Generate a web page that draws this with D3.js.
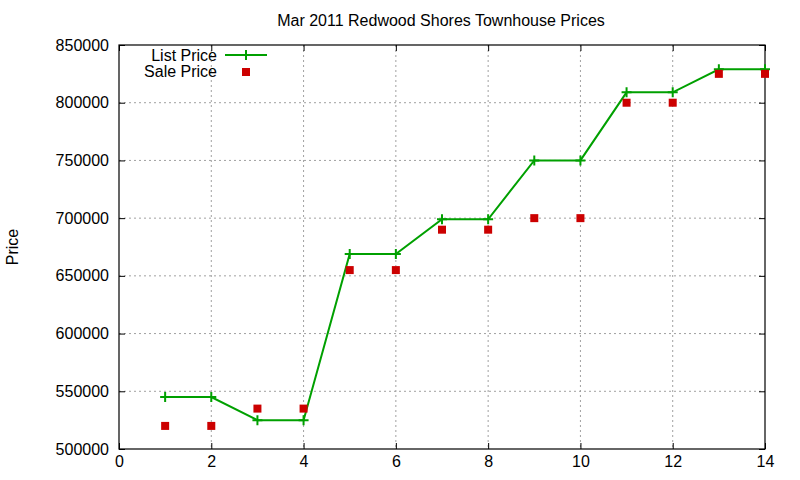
<!DOCTYPE html>
<html>
<head>
<meta charset="utf-8">
<script src="https://cdn.jsdelivr.net/npm/d3@7"></script>
<style>
body { margin: 0; background: #fff; }
svg text { font-family: "Liberation Sans", Arial, sans-serif; fill: #000; }
.grid line { stroke: #a0a0a0; stroke-width: 1; stroke-dasharray: 2,3; }
</style>
</head>
<body>
<script>
var title = "Mar 2011 Redwood Shores Townhouse Prices";
var yLabel = "Price";
var xVals = [1, 2, 3, 4, 5, 6, 7, 8, 9, 10, 11, 12, 13, 14];
var listPrice = [545000, 545000, 525000, 525000, 669000, 669000, 699000, 699000, 750000, 750000, 809000, 809000, 829000, 829000];
var salePrice = [520000, 520000, 535000, 535000, 655000, 655000, 690000, 690000, 700000, 700000, 800000, 800000, 825000, 825000];
var xTicks = [0, 2, 4, 6, 8, 10, 12, 14];
var yTicks = [500000, 550000, 600000, 650000, 700000, 750000, 800000, 850000];

drawChart();

function drawChart() {
    var W = 800, H = 480;
    var pl = 119, pr = 765, pt = 45, pb = 449;
    var green = "#00a000", red = "#cc0000";

    var svg = d3.select("body").append("svg")
        .attr("width", W)
        .attr("height", H);

    var x = d3.scaleLinear().domain([0, 14]).range([pl, pr]);
    var y = d3.scaleLinear().domain([500000, 850000]).range([pb, pt]);

    // grid
    var grid = svg.append("g").attr("class", "grid");
    grid.selectAll("line.gx").data(xTicks.slice(1, -1)).enter().append("line")
        .attr("x1", function (d) { return x(d); }).attr("x2", function (d) { return x(d); })
        .attr("y1", pt).attr("y2", pb);
    grid.selectAll("line.gy").data(yTicks.slice(1, -1)).enter().append("line")
        .attr("y1", function (d) { return y(d); }).attr("y2", function (d) { return y(d); })
        .attr("x1", pl).attr("x2", pr);

    // axes, ticks inward and mirrored
    var tk = 6;
    svg.append("g").attr("transform", "translate(0," + pb + ")")
        .call(d3.axisBottom(x).tickValues(xTicks).tickSize(-tk).tickPadding(7).tickFormat(d3.format("d")));
    svg.append("g").attr("transform", "translate(0," + pt + ")")
        .call(d3.axisTop(x).tickValues(xTicks).tickSize(-tk).tickFormat(""));
    svg.append("g").attr("transform", "translate(" + pl + ",0)")
        .call(d3.axisLeft(y).tickValues(yTicks).tickSize(-tk).tickPadding(10).tickFormat(d3.format("d")));
    svg.append("g").attr("transform", "translate(" + pr + ",0)")
        .call(d3.axisRight(y).tickValues(yTicks).tickSize(-tk).tickFormat(""));

    svg.selectAll(".domain").remove();
    svg.selectAll(".tick line").attr("stroke", "#000");
    svg.selectAll(".tick text").attr("font-size", 16).attr("fill", "#000")
        .style("font-family", "'Liberation Sans', Arial, sans-serif");

    svg.append("rect")
        .attr("x", pl).attr("y", pt)
        .attr("width", pr - pl).attr("height", pb - pt)
        .attr("fill", "none").attr("stroke", "#000").attr("stroke-width", 1.2);

    // title and y label
    svg.append("text").attr("x", 441).attr("y", 26)
        .attr("text-anchor", "middle").attr("font-size", 16).text(title);
    svg.append("text")
        .attr("transform", "translate(18," + ((pt + pb) / 2) + ") rotate(-90)")
        .attr("text-anchor", "middle").attr("font-size", 16).text(yLabel);

    // list price line
    var pts = xVals.map(function (d, i) { return [d, listPrice[i]]; });
    var line = d3.line().x(function (d) { return x(d[0]); }).y(function (d) { return y(d[1]); });
    svg.append("path").datum(pts)
        .attr("d", line).attr("fill", "none")
        .attr("stroke", green).attr("stroke-width", 2);

    function plus(g, cx, cy) {
        var s = 5;
        g.append("path")
            .attr("d", "M" + (cx - s) + "," + cy + "H" + (cx + s) + "M" + cx + "," + (cy - s) + "V" + (cy + s))
            .attr("stroke", green).attr("stroke-width", 2).attr("fill", "none");
    }
    var marks = svg.append("g");
    pts.forEach(function (d) { plus(marks, x(d[0]), y(d[1])); });

    // sale price squares
    svg.selectAll("rect.sale").data(xVals).enter().append("rect")
        .attr("class", "sale")
        .attr("x", function (d) { return x(d) - 4; })
        .attr("y", function (d, i) { return y(salePrice[i]) - 4; })
        .attr("width", 8).attr("height", 8)
        .attr("fill", red);

    // legend
    var lg = svg.append("g");
    lg.append("text").attr("x", 217).attr("y", 61).attr("text-anchor", "end").attr("font-size", 16).text("List Price");
    lg.append("line").attr("x1", 225).attr("x2", 267).attr("y1", 55).attr("y2", 55)
        .attr("stroke", green).attr("stroke-width", 2);
    plus(lg, 246, 55);
    lg.append("text").attr("x", 217).attr("y", 77).attr("text-anchor", "end").attr("font-size", 16).text("Sale Price");
    lg.append("rect").attr("x", 242).attr("y", 68).attr("width", 8).attr("height", 8).attr("fill", red);
}
</script>
</body>
</html>
